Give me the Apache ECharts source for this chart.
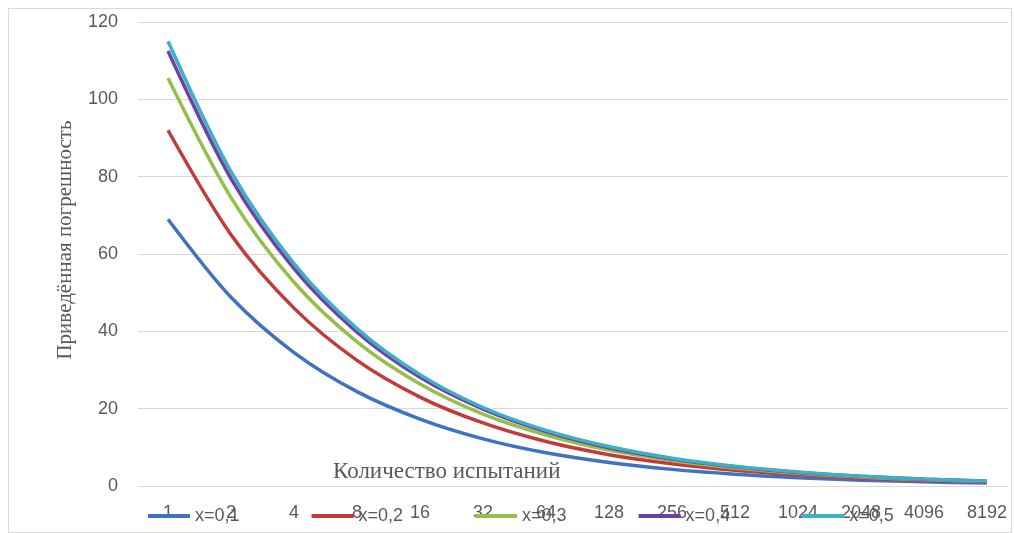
<!DOCTYPE html>
<html>
<head>
<meta charset="utf-8">
<script src="https://cdn.jsdelivr.net/npm/echarts@6/dist/echarts.min.js"></script>
<style>
html,body{margin:0;padding:0;background:#fff;}
#c{position:absolute;left:0;top:0;width:1014px;height:533px;}
#frame{position:absolute;left:8px;top:8px;width:1002px;height:523px;border:1px solid #d9d9d9;pointer-events:none;}
</style>
</head>
<body>
<div id="c"></div>
<div id="frame"></div>
<script>
const categories = ['1','2','4','8','16','32','64','128','256','512','1024','2048','4096','8192'];
const seriesNames = ['x=0,1','x=0,2','x=0,3','x=0,4','x=0,5'];
const s01 = [69, 48.8, 34.5, 24.4, 17.3, 12.2, 8.6, 6.1, 4.3, 3.05, 2.16, 1.5, 1.08, 0.76];
const s02 = [92, 65, 46, 32.5, 23, 16.3, 11.5, 8.1, 5.75, 4.07, 2.9, 2.0, 1.44, 1.02];
const s03 = [105.5, 74.6, 52.7, 37.3, 26.4, 18.6, 13.2, 9.3, 6.6, 4.66, 3.3, 2.33, 1.65, 1.17];
const s04 = [112.5, 79.5, 56.2, 39.8, 28.1, 19.9, 14.1, 9.9, 7.0, 5.0, 3.5, 2.5, 1.76, 1.24];
const s05 = [115, 81.3, 57.5, 40.7, 28.8, 20.3, 14.4, 10.2, 7.2, 5.1, 3.6, 2.5, 1.8, 1.27];
const yTicks = {min: 0, max: 120, interval: 20};
const colors = ['#3f72c2', '#c23a3c', '#96be4a', '#6e43a0', '#3eaec9'];
const allData = [s01, s02, s03, s04, s05];

const chart = echarts.init(document.getElementById('c'));
const txt = '#595959';
chart.setOption({
  animation: false,
  color: colors,
  title: {
    text: 'Количество испытаний',
    left: 328, top: 455,
    textStyle: {fontFamily: 'Liberation Serif', fontSize: 23, fontWeight: 'normal', color: txt}
  },
  legend: {
    data: seriesNames,
    left: 143, top: 502,
    icon: 'rect',
    itemWidth: 42, itemHeight: 4, itemGap: 72,
    textStyle: {fontFamily: 'Liberation Sans', fontSize: 18, color: txt}
  },
  grid: [
    {left: 168, right: 27, top: 22, bottom: 47},
    {left: 138, right: 6, top: 22, bottom: 47}
  ],
  xAxis: [
    {type: 'category', gridIndex: 0, data: categories, boundaryGap: false,
     axisLine: {show: false}, axisTick: {show: false},
     axisLabel: {fontFamily: 'Liberation Sans', fontSize: 18, color: txt, margin: 18, interval: 0},
     splitLine: {show: false}},
    {type: 'category', gridIndex: 1, data: categories, show: false}
  ],
  yAxis: [
    {type: 'value', gridIndex: 0, min: yTicks.min, max: yTicks.max, interval: yTicks.interval, show: false},
    {type: 'value', gridIndex: 1, min: yTicks.min, max: yTicks.max, interval: yTicks.interval,
     name: 'Приведённая погрешность', nameLocation: 'middle', nameGap: 62, nameRotate: 90,
     nameTextStyle: {fontFamily: 'Liberation Serif', fontSize: 21, color: txt, padding: [0, 0, 0, 28]},
     axisLine: {show: false}, axisTick: {show: false},
     axisLabel: {fontFamily: 'Liberation Sans', fontSize: 18, color: txt, margin: 20},
     splitLine: {lineStyle: {color: '#d9d9d9', width: 1}}}
  ],
  series: allData.map((d, i) => ({
    name: seriesNames[i], type: 'line', xAxisIndex: 0, yAxisIndex: 0,
    data: d, smooth: 0.3, showSymbol: false, symbol: 'none',
    lineStyle: {width: 3.5, color: colors[i]}, itemStyle: {color: colors[i]}
  }))
});
</script>
</body>
</html>
